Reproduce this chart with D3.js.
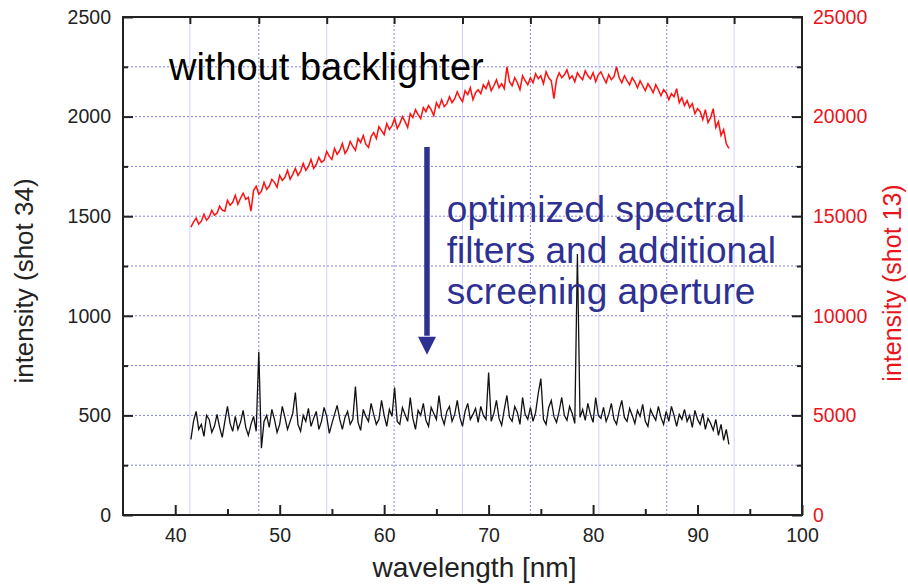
<!DOCTYPE html>
<html lang="en"><head><meta charset="utf-8">
<title>spectra</title>
<script src="https://cdn.jsdelivr.net/npm/d3@7"></script>
<style>
body { margin: 0; background: #fff; }
text { font-family: "Liberation Sans", Arial, sans-serif; }
</style>
</head>
<body>
<script>
// wavelength sampling of both spectra (nm)
var wlStart = 41.5;
var wlStep = 0.25;

// shot 13 (red, right axis)
var shot13 = [
  14450, 14700, 14900, 14600, 14750, 15100, 14800, 14950, 15300, 15050,
  15150, 15500, 15300, 15250, 15800, 15550, 15700, 16050, 15600, 15900,
  16150, 15850, 15950, 15250, 16300, 16500, 16100, 16250, 16700, 16350,
  16500, 16850, 16700, 16450, 17050, 16800, 16950, 17300, 16850, 17100,
  17400, 17050, 17250, 17650, 17300, 17500, 17850, 17400, 17600, 17950,
  17700, 17800, 18250, 18000, 17850, 18400, 18100, 18300, 18650, 18150,
  18350, 18750, 18500, 18300, 18900, 18700, 19050, 18600, 18450, 19000,
  19200, 18900, 19500, 19300, 19100, 19650, 19350, 19550, 19900, 19400,
  19650, 20000, 19750, 19450, 20150, 19950, 20350, 20100, 19900, 20450,
  20250, 20550, 20350, 20050, 20700, 20450, 20850, 20500, 20650, 21000,
  20700, 20900, 21250, 20950, 20750, 21300, 21100, 21450, 20850, 21200,
  21350, 21150, 21600, 21400, 21750, 21300, 21550, 21850, 21450, 21650,
  21400, 22500, 21750, 21550, 21950, 21700, 21350, 22050, 21800, 21600,
  21950, 21700, 22150, 21900, 22050, 21650, 22250, 21950, 21800, 20900,
  21850, 22200, 21950, 22100, 22350, 21900, 22050, 21750, 22200, 22000,
  21850, 22300, 22050, 21900, 22200, 21750, 22100, 22250, 21950, 21700,
  22100, 21850, 22000, 22500, 21950, 21700, 22050, 21800, 21600, 21950,
  21750, 21450, 21800, 21550, 21300, 21650, 21450, 21200, 21600, 21350,
  21050, 21350, 21200, 20850, 21150, 21000, 21400, 20700, 20950, 20550,
  20800, 20450, 20650, 20150, 20400, 20250, 19850, 20350, 19700, 19950,
  20400, 19450, 19750, 19050, 19350, 18650, 18400
];

// shot 34 (black, left axis)
var shot34 = [
  380, 470, 520, 430, 455, 395, 500, 480, 415, 445,
  505, 440, 390, 470, 545, 460, 420, 495, 430, 465,
  525, 440, 400, 455, 495, 420, 820, 335, 470, 500,
  440, 530, 480, 415, 455, 545, 490, 430, 470, 510,
  615, 455, 420, 500, 470, 535, 445, 485, 520, 430,
  470, 540, 495, 410, 460, 505, 550, 480, 430, 490,
  520, 455, 480, 645, 465, 425, 530, 495, 470, 560,
  505, 455, 480, 575, 500, 445, 530, 495, 640, 470,
  455, 540, 505, 470, 590, 485, 430, 525, 500, 560,
  475, 445, 540, 510, 480, 600, 495, 455, 520, 545,
  470, 505, 575, 490, 445, 520, 560, 480, 505, 535,
  465, 545, 500, 480, 715, 470, 510, 575, 485, 450,
  530, 600, 490, 470, 545, 515, 455, 590, 505, 480,
  540, 470, 515, 610, 685, 480, 455, 540, 575, 495,
  465, 520, 590, 500, 475, 545, 510, 460, 1310, 490,
  530, 475, 560, 505, 465, 590, 500, 485, 540, 470,
  505, 560, 480, 455, 525, 575, 490, 470, 535, 500,
  460, 525, 495, 555, 470, 445, 530, 500, 475, 545,
  490, 455, 520, 470, 545, 500, 445, 505, 480, 530,
  470, 500, 440, 525, 480, 455, 510, 430, 485, 460,
  425, 480, 400, 455, 375, 430, 355
];

var xTicks = [40, 50, 60, 70, 80, 90, 100];
var xMinor = [45, 55, 65, 75, 85, 95];
var leftTicks = [0, 500, 1000, 1500, 2000, 2500];
var leftMinor = [250, 750, 1250, 1750, 2250];
var rightTicks = [0, 5000, 10000, 15000, 20000, 25000];
var rightMinor = [2500, 7500, 12500, 17500, 22500];
// vertical grid / top ticks (nm), alternate solid and dotted
var vGrid = [41.4, 48.0, 54.5, 60.95, 67.5, 74.0, 80.55, 87.05, 93.5];
var hGrid = [250, 500, 750, 1000, 1250, 1500, 1750, 2000, 2250];

var noteLines = ["optimized spectral", "filters and additional", "screening aperture"];

var width = 908, height = 587;
var mLeft = 123, mRight = 802, mTop = 17, mBottom = 515;

var svg = d3.select("body").append("svg")
  .attr("width", width)
  .attr("height", height);

var x = d3.scaleLinear().domain([35, 100]).range([mLeft, mRight]);
var yL = d3.scaleLinear().domain([0, 2500]).range([mBottom, mTop]);
var yR = d3.scaleLinear().domain([0, 25000]).range([mBottom, mTop]);

var wl = function(i) { return wlStart + i * wlStep; };

// grid
svg.append("g").selectAll("line")
  .data(vGrid)
  .enter().append("line")
  .attr("x1", function(d) { return x(d); })
  .attr("x2", function(d) { return x(d); })
  .attr("y1", mTop).attr("y2", mBottom)
  .attr("stroke", function(d, i) { return i % 2 == 0 ? "#d2d2f7" : "#8a8ae0"; })
  .attr("stroke-width", 1)
  .attr("stroke-dasharray", function(d, i) { return i % 2 == 0 ? null : "2,2"; });

svg.append("g").selectAll("line")
  .data(hGrid)
  .enter().append("line")
  .attr("x1", mLeft).attr("x2", mRight)
  .attr("y1", function(d) { return yL(d); })
  .attr("y2", function(d) { return yL(d); })
  .attr("stroke", "#8080dc")
  .attr("stroke-width", 1)
  .attr("stroke-dasharray", "2,2");

// spectra
var redLine = d3.line()
  .x(function(d, i) { return x(wl(i)); })
  .y(function(d) { return yR(d); });
var blackLine = d3.line()
  .x(function(d, i) { return x(wl(i)); })
  .y(function(d) { return yL(d); });

svg.append("path").datum(shot13)
  .attr("d", redLine)
  .attr("fill", "none")
  .attr("stroke", "#ff1010")
  .attr("stroke-width", 1.5);

svg.append("path").datum(shot34)
  .attr("d", blackLine)
  .attr("fill", "none")
  .attr("stroke", "#111")
  .attr("stroke-width", 1.3);

// axes
function styleAxis(g, color) {
  g.attr("font-size", null).attr("font-family", null);
  g.select(".domain").remove();
  g.selectAll("line").attr("stroke", "#222").attr("stroke-width", 2);
  g.selectAll("text")
    .attr("fill", color)
    .style("font-size", "19.5px");
}

var fmt = d3.format("d");

var gx = svg.append("g").attr("transform", "translate(0," + mBottom + ")")
  .call(d3.axisBottom(x).tickValues(xTicks).tickFormat(fmt).tickSize(-10).tickPadding(13));
styleAxis(gx, "#222");
var gxm = svg.append("g").attr("transform", "translate(0," + mBottom + ")")
  .call(d3.axisBottom(x).tickValues(xMinor).tickSize(-6).tickFormat(""));
styleAxis(gxm, "#222");

var gt = svg.append("g").attr("transform", "translate(0," + mTop + ")")
  .call(d3.axisTop(x).tickValues(vGrid).tickSize(-7).tickFormat(""));
styleAxis(gt, "#222");

var gl = svg.append("g").attr("transform", "translate(" + mLeft + ",0)")
  .call(d3.axisLeft(yL).tickValues(leftTicks).tickFormat(fmt).tickSize(-10).tickPadding(12));
styleAxis(gl, "#222");
var glm = svg.append("g").attr("transform", "translate(" + mLeft + ",0)")
  .call(d3.axisLeft(yL).tickValues(leftMinor).tickSize(-5).tickFormat(""));
styleAxis(glm, "#222");

var gr = svg.append("g").attr("transform", "translate(" + mRight + ",0)")
  .call(d3.axisRight(yR).tickValues(rightTicks).tickFormat(fmt).tickSize(-10).tickPadding(11));
styleAxis(gr, "#e8141c");
var grm = svg.append("g").attr("transform", "translate(" + mRight + ",0)")
  .call(d3.axisRight(yR).tickValues(rightMinor).tickSize(-5).tickFormat(""));
styleAxis(grm, "#e8141c");

// frame
svg.append("rect")
  .attr("x", mLeft).attr("y", mTop)
  .attr("width", mRight - mLeft).attr("height", mBottom - mTop)
  .attr("fill", "none")
  .attr("stroke", "#222")
  .attr("stroke-width", 2);

// axis titles
svg.append("text")
  .attr("text-anchor", "middle")
  .attr("x", (mLeft + mRight) / 2 + 12)
  .attr("y", 577)
  .attr("font-size", 28)
  .attr("fill", "#222")
  .text("wavelength [nm]");

svg.append("text")
  .attr("text-anchor", "middle")
  .attr("transform", "translate(33,281) rotate(-90)")
  .attr("font-size", 26)
  .attr("fill", "#222")
  .text("intensity (shot 34)");

svg.append("text")
  .attr("text-anchor", "middle")
  .attr("transform", "translate(901,283) rotate(-90)")
  .attr("font-size", 25)
  .attr("fill", "#e8141c")
  .text("intensity (shot 13)");

// annotations
svg.append("text")
  .attr("x", x(39.4))
  .attr("y", yL(2183))
  .attr("font-size", 38)
  .attr("fill", "#000")
  .text("without backlighter");

var noteColor = "#2e3192";
var ax = x(64.1);
svg.append("line")
  .attr("x1", ax).attr("x2", ax)
  .attr("y1", yL(1847)).attr("y2", yL(900))
  .attr("stroke", noteColor)
  .attr("stroke-width", 5.5);
svg.append("path")
  .attr("d", "M" + (ax - 9) + "," + yL(895) + "L" + (ax + 9) + "," + yL(895) + "L" + ax + "," + yL(805) + "Z")
  .attr("fill", noteColor);

svg.append("g").selectAll("text")
  .data(noteLines)
  .enter().append("text")
  .attr("x", x(66.0))
  .attr("y", function(d, i) { return yL(1471) + i * 41; })
  .attr("font-size", 37)
  .attr("fill", noteColor)
  .text(function(d) { return d; });
</script>
</body></html>
